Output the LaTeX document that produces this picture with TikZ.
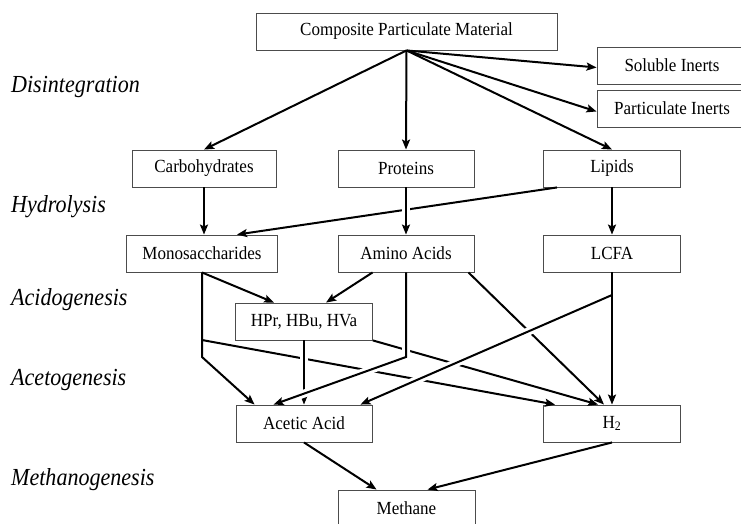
\documentclass[tikz,border=0pt]{standalone}
\usepackage{fontspec}
\setmainfont{Liberation Serif}
\newfontfamily\boxfont{Liberation Serif}[FakeStretch=0.92]
\newfontfamily\stagefont{Liberation Serif}[FakeStretch=0.9]
\usetikzlibrary{arrows.meta}
\tikzset{
  box/.style={draw=black!70, line width=0.9pt, inner sep=0pt, minimum height=37pt,
    font=\boxfont\fontsize{18.5}{22}\selectfont, text=black},
  stage/.style={anchor=west, inner sep=0pt, font=\stagefont\itshape\fontsize{24.5}{28}\selectfont},
  arr/.style={line width=2pt, -{Stealth[length=10pt,width=8pt,inset=2pt]}},
  over/.style={preaction={draw=white, line width=8pt, -, shorten <=10pt, shorten >=10pt}},
}
\begin{document}
\begin{tikzpicture}[x=1pt, y=-1pt]
\useasboundingbox (0,0) rectangle (741,523);
\clip (0,0) rectangle (741,523);
\fill[white] (0,0) rectangle (741,523);

% stage labels
\node[stage] (l1) at (11,87) {Disintegration};
\node[stage] (l2) at (11,207) {Hydrolysis};
\node[stage] (l3) at (11,300) {Acidogenesis};
\node[stage] (l4) at (11,380) {Acetogenesis};
\node[stage] (l5) at (11,480) {Methanogenesis};

% boxes
\node[box, minimum width=301pt] (cpm) at (406.5,31.5) {Composite Particulate Material};
\node[box, minimum width=150pt] (sol) at (672,65.5) {Soluble Inerts};
\node[box, minimum width=150pt] (part) at (672,108.5) {Particulate Inerts};
\node[box, minimum width=144pt] (carb) at (204,168.5) {Carbohydrates};
\node[box, minimum width=136pt] (prot) at (406,168.5) {Proteins};
\node[box, minimum width=137pt] (lip) at (612,168.5) {Lipids};
\node[box, minimum width=151pt] (mono) at (202,253.5) {Monosaccharides};
\node[box, minimum width=136pt] (amino) at (406,253.5) {Amino Acids};
\node[box, minimum width=137pt] (lcfa) at (612,253.5) {LCFA};
\node[box, minimum width=137pt] (hpr) at (304,321.5) {HPr, HBu, HVa};
\node[box, minimum width=136pt] (acetic) at (304,423.5) {Acetic Acid};
\node[box, minimum width=137pt] (h2) at (612,423.5) {H\textsubscript{2}};
\node[box, minimum width=137pt] (meth) at (406.5,508.5) {Methane};

% junction coordinates
\coordinate (ma) at (mono.south |- 0,340);
\coordinate (mk) at (mono.south |- 0,357);
\coordinate (ak) at (amino.south |- 0,357);
\coordinate (lk) at (lcfa.south |- 0,295);

% under lines (broken where other lines cross)
\draw[arr] ([xshift=14pt]lip.south west) -- ([xshift=111pt]mono.north west);
\draw[arr] (ma) -- ([xshift=12pt]h2.north west);
\draw[arr] (hpr.south east) -- ([xshift=-14pt]h2.north);
\draw[arr] ([xshift=-6pt]amino.south east) -- ([xshift=-8pt]h2.north);

% over lines
\draw[arr, over] (prot.south) -- (amino.north);
\draw[arr, over] (hpr.south) -- (hpr.south |- acetic.north);
\draw[arr, over] (amino.south) -- (ak) -- ([xshift=38pt]acetic.north west);
\draw[arr, over] (lk) -- ([xshift=-12pt]acetic.north east);

% remaining connectors
\draw[arr] (cpm.south) -- (carb.north);
\draw[arr] (cpm.south) -- (prot.north);
\draw[arr] (cpm.south) -- (lip.north);
\draw[arr] (cpm.south) -- ([yshift=-2pt]sol.west);
\draw[arr] (cpm.south) -- ([yshift=-3pt]part.west);
\draw[arr] (carb.south) -- (carb.south |- mono.north);
\draw[arr] (lip.south) -- (lcfa.north);
\draw[arr] (mono.south) -- ([xshift=39pt]hpr.north west);
\draw[arr] ([xshift=35pt]amino.south west) -- ([xshift=91pt]hpr.north west);
\draw[arr] (mono.south) -- (mk) -- ([xshift=19pt]acetic.north west);
\draw[arr] (lcfa.south) -- (h2.north);
\draw[arr] (acetic.south) -- ([xshift=39pt]meth.north west);
\draw[arr] (h2.south) -- ([xshift=90pt]meth.north west);
\end{tikzpicture}
\end{document}
